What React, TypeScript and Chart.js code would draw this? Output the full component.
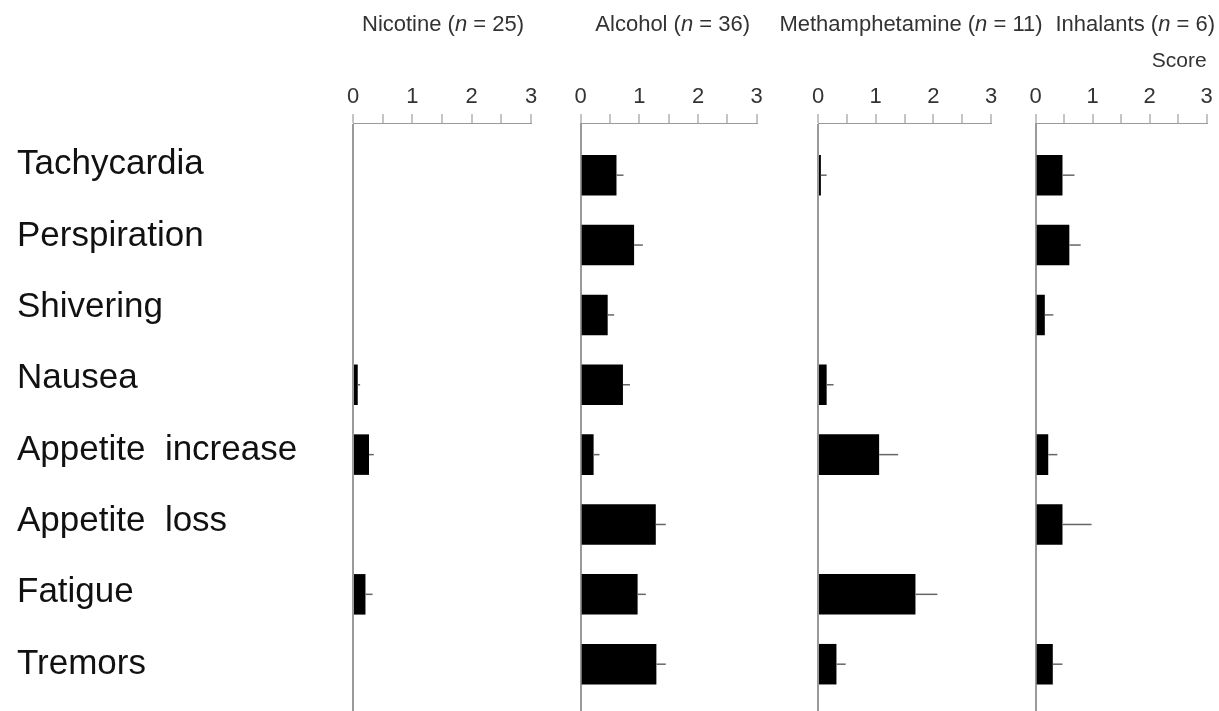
import React, { useEffect, useRef } from 'react';
import { Chart, registerables } from 'chart.js';

Chart.register(...registerables);

// ---------- data ----------
const symptoms = [
  'Tachycardia',
  'Perspiration',
  'Shivering',
  'Nausea',
  'Appetite  increase',
  'Appetite  loss',
  'Fatigue',
  'Tremors',
];
const drugs = ['Nicotine', 'Alcohol', 'Methamphetamine', 'Inhalants'];
const sampleSizes = [25, 36, 11, 6];
const scoreTicks = [0, 0.5, 1, 1.5, 2, 2.5, 3];
const scoreAxisTitle = 'Score';

const nicotineScores = [0, 0, 0, 0.08, 0.27, 0, 0.21, 0];
const nicotineErrors = [0, 0, 0, 0.04, 0.08, 0, 0.12, 0];
const alcoholScores = [0.61, 0.91, 0.46, 0.72, 0.22, 1.28, 0.97, 1.29];
const alcoholErrors = [0.12, 0.15, 0.11, 0.12, 0.1, 0.17, 0.14, 0.16];
const methScores = [0.05, 0, 0, 0.15, 1.06, 0, 1.69, 0.32];
const methErrors = [0.1, 0, 0, 0.12, 0.33, 0, 0.38, 0.16];
const inhalantScores = [0.47, 0.59, 0.16, 0, 0.22, 0.47, 0, 0.3];
const inhalantErrors = [0.21, 0.2, 0.15, 0, 0.16, 0.51, 0, 0.17];

const seriesScores = [nicotineScores, alcoholScores, methScores, inhalantScores];
const seriesErrors = [nicotineErrors, alcoholErrors, methErrors, inhalantErrors];

// ---------- layout / style ----------
const FONT = '"Liberation Sans", Arial, Helvetica, sans-serif';
const H = 711;
const AXIS_Y = 123;

const panelLayouts = [
  { left: 0, width: 545, padL: 17, padR: 14, labelWidth: 336, headerDx: 1, labels: true, score: false },
  { left: 560, width: 210, padL: 20.7, padR: 13.3, labelWidth: 0, headerDx: 4, labels: false, score: false },
  { left: 760, width: 290, padL: 58, padR: 59, labelWidth: 0, headerDx: 6.5, labels: false, score: false },
  { left: 1020, width: 199, padL: 15.7, padR: 12.3, labelWidth: 0, headerDx: 14, labels: false, score: true },
];

const headerPlugin = {
  id: 'panelHeader',
  afterDraw(chart: any, _args: any, opts: any) {
    if (!opts || !opts.name) return;
    const { ctx, chartArea } = chart;
    const parts: any[] = [
      { t: opts.name + ' (', f: `22px ${FONT}` },
      { t: 'n', f: `italic 22px ${FONT}` },
      { t: ` = ${opts.n})`, f: `22px ${FONT}` },
    ];
    ctx.save();
    let total = 0;
    parts.forEach((p) => {
      ctx.font = p.f;
      p.w = ctx.measureText(p.t).width;
      total += p.w;
    });
    let x = (chartArea.left + chartArea.right) / 2 + opts.dx - total / 2;
    ctx.fillStyle = '#333';
    ctx.textBaseline = 'middle';
    ctx.textAlign = 'left';
    parts.forEach((p) => {
      ctx.font = p.f;
      ctx.fillText(p.t, x, opts.y);
      x += p.w;
    });
    ctx.restore();
  },
};

const errorBarPlugin = {
  id: 'errorBars',
  afterDatasetsDraw(chart: any, _args: any, opts: any) {
    const errs = opts && opts.errors;
    if (!errs) return;
    const { ctx } = chart;
    const meta = chart.getDatasetMeta(0);
    const xs = chart.scales.x;
    const data = chart.data.datasets[0].data;
    ctx.save();
    ctx.strokeStyle = '#666';
    ctx.lineWidth = 1.5;
    meta.data.forEach((el: any, i: number) => {
      const e = errs[i];
      if (!e) return;
      const v = data[i].x;
      const x1 = xs.getPixelForValue(v + e);
      ctx.beginPath();
      ctx.moveTo(el.x, el.y);
      ctx.lineTo(x1, el.y);
      ctx.stroke();
    });
    ctx.restore();
  },
};

function Panel({ idx }: { idx: number }) {
  const ref = useRef<HTMLCanvasElement>(null);
  const p = panelLayouts[idx];
  useEffect(() => {
    if (!ref.current) return;
    const scores = seriesScores[idx];
    const errors = seriesErrors[idx];
    const chart = new Chart(ref.current, {
      type: 'bar',
      data: {
        datasets: [
          {
            data: scores.map((v, i) => ({ x: v, y: i })),
            backgroundColor: '#000',
            borderWidth: 0,
            barPercentage: 0.58,
            categoryPercentage: 1,
            xAxisID: 'x',
            yAxisID: 'y',
          } as any,
        ],
      },
      options: {
        indexAxis: 'y',
        animation: false,
        responsive: false,
        devicePixelRatio: 1,
        layout: { padding: { left: p.padL, right: p.padR, top: 0, bottom: 0 } },
        plugins: {
          legend: { display: false },
          tooltip: { enabled: false },
          title: { display: false },
          panelHeader: { name: drugs[idx], n: sampleSizes[idx], dx: p.headerDx, y: 25 },
          errorBars: { errors },
        } as any,
        scales: {
          x: {
            type: 'linear',
            position: 'top',
            min: 0,
            max: 3,
            offset: false,
            afterFit: (s: any) => {
              s.height = AXIS_Y;
            },
            afterBuildTicks: (s: any) => {
              s.ticks = scoreTicks.map((v) => ({ value: v }));
            },
            ticks: {
              autoSkip: false,
              maxRotation: 0,
              padding: 4,
              font: { family: FONT, size: 22 },
              color: '#333',
              callback: (v: any) => (Number.isInteger(v) ? String(v) : ''),
            },
            grid: {
              drawOnChartArea: true,
              drawTicks: true,
              offset: false,
              tickLength: 9,
              color: (c: any) => (c.tick && c.tick.value === 0 ? '#9a9a9a' : 'rgba(0,0,0,0)'),
              lineWidth: (c: any) => (c.tick && c.tick.value === 0 ? 2 : 0),
              tickColor: '#8a8a8a',
              tickWidth: 1,
            },
            border: { display: true, color: '#9a9a9a', width: 1 },
            title: {
              display: p.score,
              text: scoreAxisTitle,
              align: 'end',
              color: '#333',
              font: { family: FONT, size: 21 },
              padding: { top: 49, bottom: 0 },
            },
          },
          y: {
            type: 'linear',
            reverse: true,
            min: -0.747,
            max: 7.67,
            offset: false,
            grid: { offset: false, display: false },
            display: false,
            afterBuildTicks: (s: any) => {
              s.ticks = symptoms.map((_, i) => ({ value: i }));
            },
          },
          yl: {
            type: 'linear',
            position: 'left',
            reverse: true,
            min: -0.583,
            max: 7.657,
            offset: false,
            display: p.labels,
            afterBuildTicks: (s: any) => {
              s.ticks = symptoms.map((_, i) => ({ value: i }));
            },
            afterFit: (s: any) => {
              s.width = p.labelWidth;
              s.paddingTop = 0;
              s.paddingBottom = 0;
            },
            ticks: {
              autoSkip: false,
              crossAlign: 'far',
              padding: 0,
              color: '#111',
              font: { family: FONT, size: 35 },
              callback: (_v: any, i: number) => symptoms[i] ?? '',
            },
            grid: { display: false, offset: false },
            border: { display: false },
          },
        } as any,
      },
      plugins: [headerPlugin, errorBarPlugin],
    });
    return () => chart.destroy();
  }, [idx]);
  return (
    <canvas
      ref={ref}
      width={p.width}
      height={H}
      style={{ position: 'absolute', left: p.left, top: 0, width: p.width, height: H }}
    />
  );
}

export default function App() {
  return (
    <div
      style={{
        position: 'absolute',
        left: 0,
        top: 0,
        width: 1219,
        height: H,
        background: '#fff',
        overflow: 'hidden',
      }}
    >
      {drugs.map((_, i) => (
        <Panel key={i} idx={i} />
      ))}
    </div>
  );
}
